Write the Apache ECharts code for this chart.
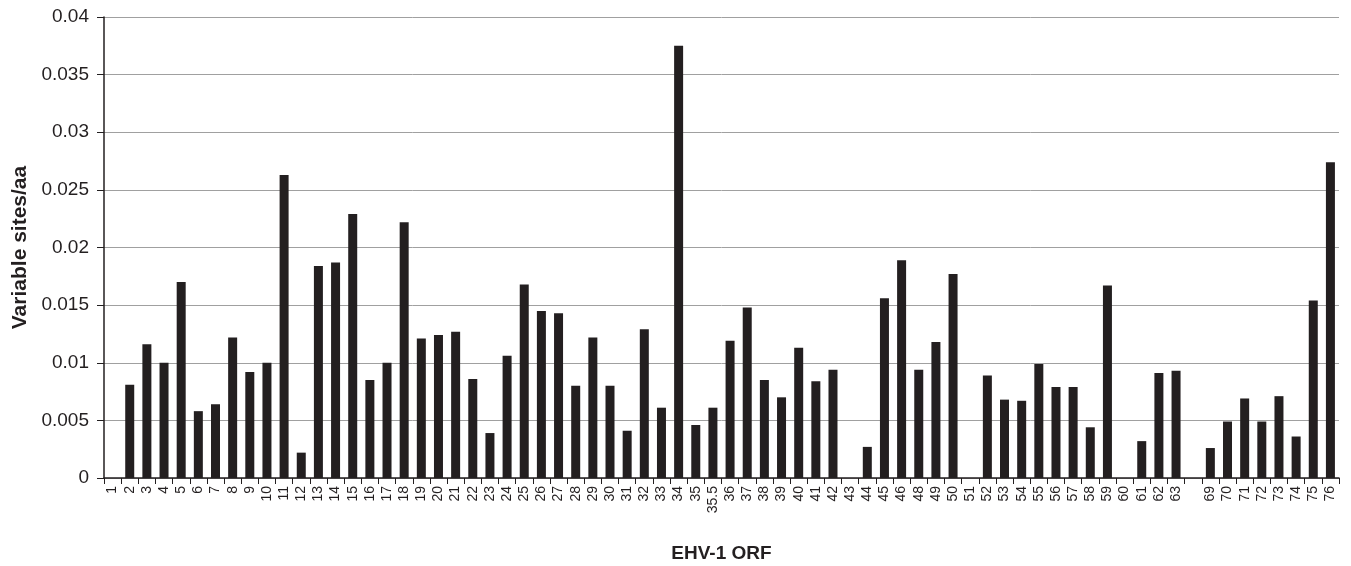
<!DOCTYPE html>
<html><head><meta charset="utf-8">
<script src="https://cdn.jsdelivr.net/npm/echarts@6/dist/echarts.min.js"></script>
<style>html,body{margin:0;padding:0;background:#fff}#c{width:1351px;height:566px}</style>
</head><body><div id="c"></div>
<script>
const categories = ['1','2','3','4','5','6','7','8','9','10','11','12','13','14','15','16','17','18','19','20','21','22','23','24','25','26','27','28','29','30','31','32','33','34','35','35.5','36','37','38','39','40','41','42','43','44','45','46','48','49','50','51','52','53','54','55','56','57','58','59','60','61','62','63','','69','70','71','72','73','74','75','76'];
const values = [0,0.0081,0.0116,0.0100,0.0170,0.0058,0.0064,0.0122,0.0092,0.0100,0.0263,0.0022,0.0184,0.0187,0.0229,0.0085,0.0100,0.0222,0.0121,0.0124,0.0127,0.0086,0.0039,0.0106,0.0168,0.0145,0.0143,0.0080,0.0122,0.0080,0.0041,0.0129,0.0061,0.0375,0.0046,0.0061,0.0119,0.0148,0.0085,0.0070,0.0113,0.0084,0.0094,0,0.0027,0.0156,0.0189,0.0094,0.0118,0.0177,0,0.0089,0.0068,0.0067,0.0099,0.0079,0.0079,0.0044,0.0167,0,0.0032,0.0091,0.0093,null,0.0026,0.0049,0.0069,0.0049,0.0071,0.0036,0.0154,0.0274];
const yTicks = {min:0, max:0.04, interval:0.005};
const chart = echarts.init(document.getElementById('c'));
chart.setOption({
  animation:false,
  grid:{left:104,right:12,top:17,bottom:88,containLabel:false,outerBoundsMode:'none'},
  xAxis:{
    type:'category', data:categories,
    name:'EHV-1 ORF', nameLocation:'middle', nameGap:66,
    nameTextStyle:{fontFamily:'Liberation Sans, Arial',fontWeight:'bold',fontSize:19,color:'#231f20'},
    axisLine:{lineStyle:{color:'#231f20',width:1.5}},
    axisTick:{show:true,alignWithLabel:false,length:6,lineStyle:{color:'#231f20'}},
    axisLabel:{rotate:90,interval:0,fontFamily:'Liberation Sans, Arial',fontSize:14,color:'#231f20',margin:8}
  },
  yAxis:{
    type:'value', min:yTicks.min, max:yTicks.max, interval:yTicks.interval,
    name:'Variable sites/aa', nameLocation:'middle', nameGap:72,
    nameTextStyle:{fontFamily:'Liberation Sans, Arial',fontWeight:'bold',fontSize:21,color:'#231f20'},
    axisLine:{show:true,lineStyle:{color:'#231f20',width:1.5}},
    axisTick:{show:true,length:7,lineStyle:{color:'#231f20'}},
    axisLabel:{fontFamily:'Liberation Sans, Arial',fontSize:19,color:'#231f20',margin:15},
    splitLine:{lineStyle:{color:'#a0a0a0',width:1}}
  },
  series:[{type:'bar',data:values,barWidth:9,itemStyle:{color:'#231f20'}}]
});
</script></body></html>
